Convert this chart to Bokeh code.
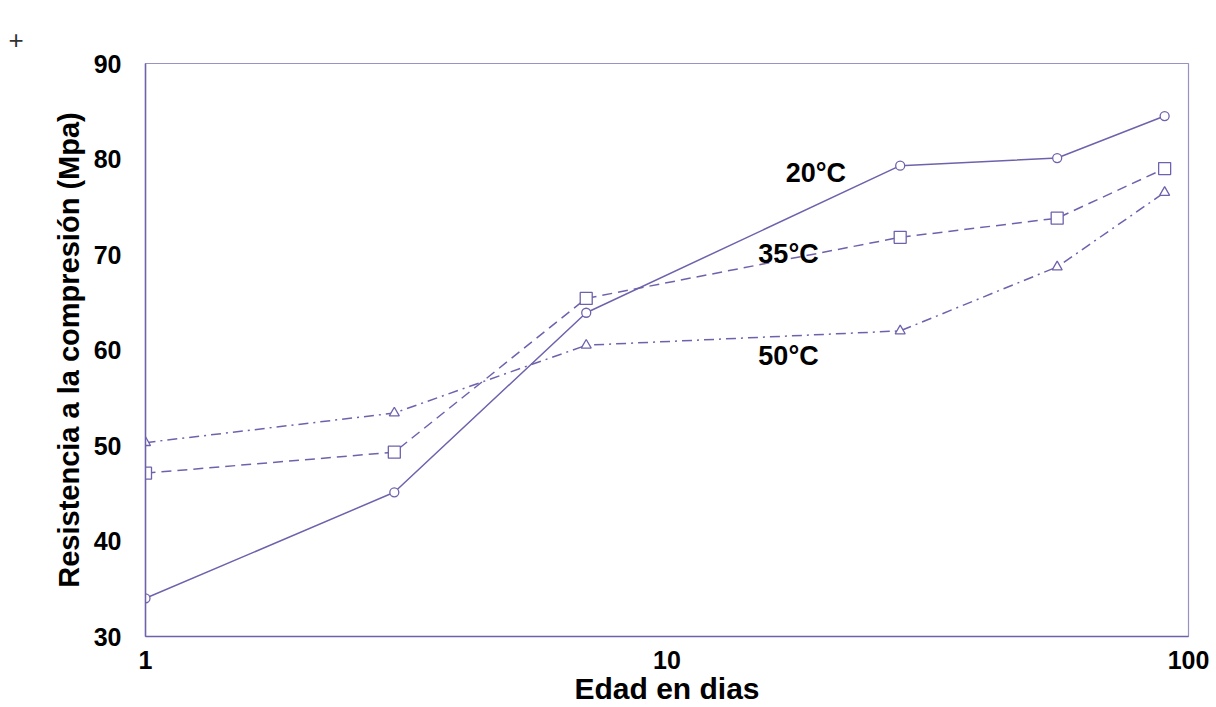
from bokeh.plotting import figure
from bokeh.models import FixedTicker, Label, Range1d
from bokeh.embed import file_html
from bokeh.resources import INLINE

# Compressive strength (MPa) vs. age (days) at three curing temperatures
days = [1, 3, 7, 28, 56, 90]
strength_20c = [34.0, 45.1, 63.9, 79.3, 80.1, 84.5]
strength_35c = [47.1, 49.3, 65.4, 71.8, 73.8, 79.0]
strength_50c = [50.3, 53.4, 60.5, 62.0, 68.7, 76.5]

series_names = ["20°C", "35°C", "50°C"]
label_days = [19.3, 17.1, 17.1]
label_strength = [78.5, 70.1, 59.4]

y_ticks = [30, 40, 50, 60, 70, 80, 90]
x_ticks = [1, 10, 100]

INK = "#6f62ad"
FONT = "Liberation Sans"

p = figure(
    width=1216, height=707,
    x_axis_type="log",
    x_range=Range1d(1, 100), y_range=Range1d(30, 90),
    output_backend="svg", toolbar_location=None,
    min_border_left=145, min_border_right=28,
    min_border_top=63, min_border_bottom=71,
    title="+",
)
p.background_fill_color = "white"
p.border_fill_color = "white"
p.outline_line_color = INK
p.outline_line_width = 1.2
p.outline_line_alpha = 0.7
p.xgrid.visible = False
p.ygrid.visible = False

# Small registration mark in the top-left corner
p.title.align = "left"
p.title.offset = -137
p.title.standoff = 30
p.title.text_font = FONT
p.title.text_font_style = "normal"
p.title.text_font_size = "26px"
p.title.text_color = "#333333"

# Axes
p.xaxis.ticker = FixedTicker(ticks=x_ticks)
p.xaxis.major_label_overrides = {t: str(t) for t in x_ticks}
p.yaxis.ticker = FixedTicker(ticks=y_ticks)
for ax in (p.xaxis[0], p.yaxis[0]):
    ax.axis_line_color = INK
    ax.axis_line_width = 1.5
    ax.major_tick_out = 0
    ax.major_tick_in = 0
    ax.minor_tick_out = 0
    ax.minor_tick_in = 0
    ax.major_label_text_font = FONT
    ax.major_label_text_font_style = "bold"
    ax.major_label_text_font_size = "25px"
    ax.major_label_text_color = "black"
    ax.axis_label_text_font = FONT
    ax.axis_label_text_font_style = "bold"
    ax.axis_label_text_font_size = "30px"
    ax.axis_label_text_color = "black"

p.yaxis.axis_label_text_font_size = "29px"
p.xaxis.axis_label = "Edad en dias"
p.xaxis.major_label_standoff = 14
p.xaxis.axis_label_standoff = 0
p.yaxis.axis_label = "Resistencia a la compresión (Mpa)"
p.yaxis.major_label_standoff = 24
p.yaxis.axis_label_standoff = 6

# Series
p.line(days, strength_20c, line_color=INK, line_width=1.5)
p.scatter(days, strength_20c, marker="circle", size=9,
          line_color=INK, fill_color="white", line_width=1.3)

p.line(days, strength_35c, line_color=INK, line_width=1.5, line_dash="10 6")
p.scatter(days, strength_35c, marker="square", size=12,
          line_color=INK, fill_color="white", line_width=1.3)

p.line(days, strength_50c, line_color=INK, line_width=1.5, line_dash="10 5 2 5")
p.scatter(days, strength_50c, marker="triangle", size=10,
          line_color=INK, fill_color="white", line_width=1.3)

# Series labels
for name, xd, yd in zip(series_names, label_days, label_strength):
    p.add_layout(Label(x=xd, y=yd, text=name, text_font=FONT,
                       text_font_style="bold", text_font_size="27px",
                       text_color="black", text_align="center",
                       text_baseline="middle"))

open("out.html", "w").write(file_html(p, INLINE))
